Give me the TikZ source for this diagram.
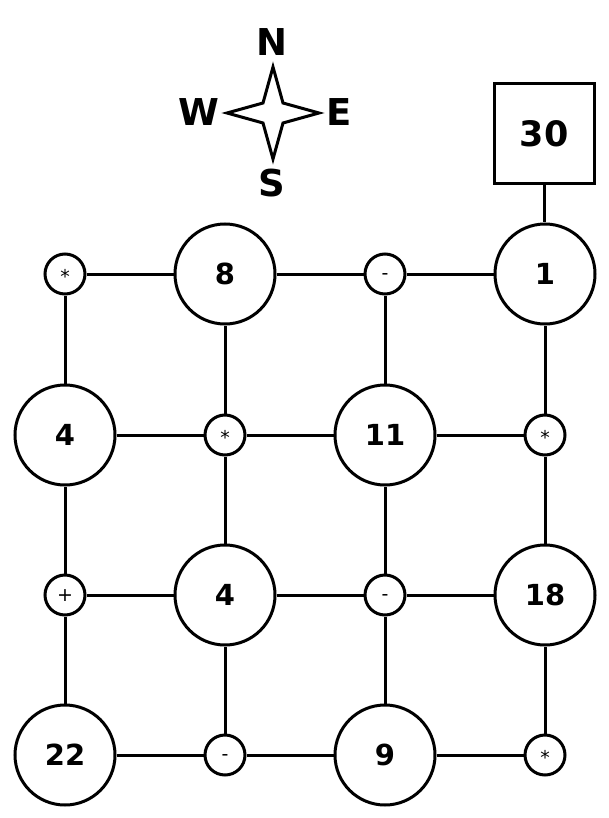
\documentclass[tikz,border=0pt]{standalone}
\usepackage{fontspec}
\setmainfont{DejaVu Sans}
\begin{document}
\begin{tikzpicture}[x=1pt,y=-1pt,
  edge/.style={line width=3pt},
  big/.style={circle,draw,line width=3pt,minimum size=100pt,inner sep=0pt,fill=white,font=\fontsize{29}{29}\selectfont\bfseries},
  small/.style={circle,draw,line width=3pt,minimum size=40pt,inner sep=0pt,fill=white,text depth=0pt,font=\fontsize{19}{19}\selectfont},
  star/.style={small,text height=18pt},
  minus/.style={small,text height=10.2pt},
  plus/.style={small,text height=13.4pt},
  target/.style={rectangle,draw,line width=3pt,minimum size=100pt,inner sep=0pt,font=\fontsize{35}{35}\selectfont\bfseries},
  dir/.style={font=\fontsize{37}{37}\selectfont\bfseries,inner sep=0pt}]
\useasboundingbox (0,0) rectangle (608,818);
% compass rose
\draw[line width=3pt,fill=white,line join=miter]
  (273,67) -- (283,103) -- (319,113) -- (283,123) -- (273,159)
  -- (263,123) -- (227,113) -- (263,103) -- cycle;
\node[dir] (n) at (272,42) {N};
\node[dir] (w) at (199,112) {W};
\node[dir] (e) at (339,112) {E};
\node[dir] (s) at (272,183) {S};
% grid of cells
\node[star]  (a1) at (65,274) {*};
\node[big]   (a2) at (225,274) {8};
\node[minus] (a3) at (385,274) {-};
\node[big]   (a4) at (545,274) {1};
\node[big]   (b1) at (65,435) {4};
\node[star]  (b2) at (225,435) {*};
\node[big]   (b3) at (385,435) {11};
\node[star]  (b4) at (545,435) {*};
\node[plus]  (c1) at (65,595) {+};
\node[big]   (c2) at (225,595) {4};
\node[minus] (c3) at (385,595) {-};
\node[big]   (c4) at (545,595) {18};
\node[big]   (d1) at (65,755) {22};
\node[minus] (d2) at (225,755) {-};
\node[big]   (d3) at (385,755) {9};
\node[star]  (d4) at (545,755) {*};
\node[target] (t) at (544,134) {30};
% connectors
\foreach \r in {a,b,c,d}{
  \draw[edge] (\r1) -- (\r2) -- (\r3) -- (\r4);
}
\foreach \k in {1,2,3,4}{
  \draw[edge] (a\k) -- (b\k) -- (c\k) -- (d\k);
}
\draw[edge] (t.south) -- (t.south |- a4.north);
\end{tikzpicture}
\end{document}
